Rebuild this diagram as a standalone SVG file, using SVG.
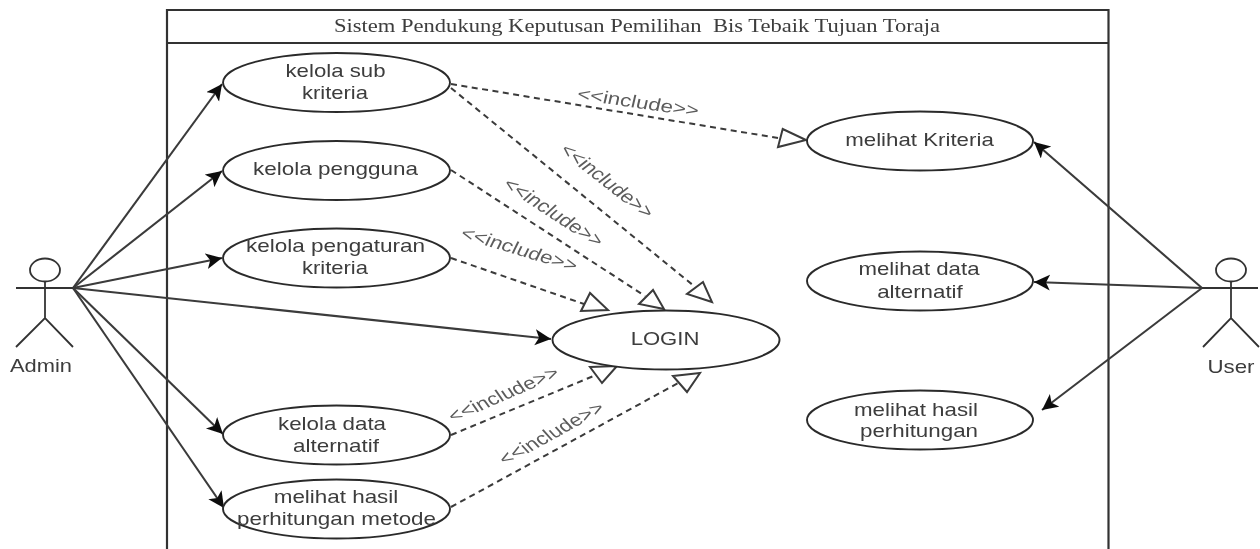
<svg xmlns="http://www.w3.org/2000/svg" width="1260" height="549" viewBox="0 0 1260 549">
<style>
.l{fill:none;stroke:#333;stroke-width:1.8}
.b{fill:none;stroke:#333;stroke-width:2.200}
.n{fill:#fff;stroke:#2b2b2b;stroke-width:1.900}
.t{font-family:"Liberation Sans",Arial,sans-serif;font-size:18.500px;fill:#3c3c3c;text-anchor:middle}
.r{font-size:17.500px;fill:#5c5c5c}
.h{font-family:"Liberation Serif","Times New Roman",serif;font-size:19px;fill:#3c3c3c;text-anchor:middle;white-space:pre}
.a{stroke:#3a3a3a;stroke-width:2.100;fill:none;marker-end:url(#ah)}
.d{stroke:#3a3a3a;stroke-width:2;fill:none;stroke-dasharray:6 4.500}
.o{fill:#fff;stroke:#3a3a3a;stroke-width:2;stroke-linejoin:miter}
</style>
<defs>
<filter id="soft" x="-2%" y="-2%" width="104%" height="104%"><feGaussianBlur stdDeviation="0.4"/></filter>
<marker id="ah" markerUnits="userSpaceOnUse" markerWidth="20" markerHeight="18" refX="16" refY="8" orient="auto"><path d="M0 0L16 8L0 16L4 8Z" fill="#111"/></marker>
</defs>
<rect width="1260" height="549" fill="#fff"/>
<g filter="url(#soft)">
<g id="system">
<path class="b" d="M167 560V10H1108.500V560M167 43H1108.500"/>
<text class="h" x="637" y="32" textLength="606" lengthAdjust="spacingAndGlyphs" xml:space="preserve">Sistem Pendukung Keputusan Pemilihan  Bis Tebaik Tujuan Toraja</text>
</g>
<g id="connectors">
<path class="a" d="M73 288L222 84"/>
<path class="a" d="M73 288L222 171"/>
<path class="a" d="M73 288L222 258"/>
<path class="a" d="M73 288L551 339"/>
<path class="a" d="M73 288L223 434"/>
<path class="a" d="M73 288L224 508"/>
<path class="a" d="M1202 288L1034 142"/>
<path class="a" d="M1202 288L1034 282"/>
<path class="a" d="M1202 288L1042 410"/>
<path class="d" d="M451 84L778 138"/>
<path class="d" d="M451 88L694 286"/>
<path class="d" d="M451 170L645 296"/>
<path class="d" d="M451 258L584 304"/>
<path class="d" d="M451 435L596 375"/>
<path class="d" d="M451 507L680 382"/>
<polygon class="o" points="782.700,129 778,147 806,140"/>
<polygon class="o" points="703,282 687,294 712,302"/>
<polygon class="o" points="653,290 639,304 664,309"/>
<polygon class="o" points="590,293 581,311 608,310"/>
<polygon class="o" points="590,367 617,366 602,383"/>
<polygon class="o" points="673,376 700,373 687,392"/>
<g id="connector-labels">
<text class="t r" transform="translate(638 103) scale(1.280 1) rotate(10.400)" y="5">&lt;&lt;include&gt;&gt;</text>
<text class="t r" transform="translate(606.500 181.500) scale(1.280 1) rotate(45)" y="5">&lt;&lt;include&gt;&gt;</text>
<text class="t r" transform="translate(553 213) scale(1.280 1) rotate(39.800)" y="5">&lt;&lt;include&gt;&gt;</text>
<text class="t r" transform="translate(519 250) scale(1.280 1) rotate(21)" y="5">&lt;&lt;include&gt;&gt;</text>
<text class="t r" transform="translate(504 395) scale(1.280 1) rotate(-29)" y="5">&lt;&lt;include&gt;&gt;</text>
<text class="t r" transform="translate(552 434) scale(1.280 1) rotate(-35)" y="5">&lt;&lt;include&gt;&gt;</text>
</g>
</g>
<g id="admin">
<ellipse class="l" cx="45" cy="270" rx="15" ry="11.500"/>
<path class="l" d="M16 288H73M45 281.500V318M16 347L45 318L73 347"/>
<text class="t" x="41" y="372" textLength="62" lengthAdjust="spacingAndGlyphs">Admin</text>
</g>
<g id="user">
<ellipse class="l" cx="1231" cy="270" rx="15" ry="11.500"/>
<path class="l" d="M1202 288H1258M1231 281.500V318M1203 347L1231 318L1259 347"/>
<text class="t" x="1231" y="372.500" textLength="47" lengthAdjust="spacingAndGlyphs">User</text>
</g>
<g id="kelola-sub-kriteria">
<ellipse class="n" cx="336.500" cy="82.500" rx="113.500" ry="29.500"/>
<text class="t" x="335.500" y="77" textLength="100" lengthAdjust="spacingAndGlyphs">kelola sub</text>
<text class="t" x="335" y="99" textLength="66" lengthAdjust="spacingAndGlyphs">kriteria</text>
</g>
<g id="kelola-pengguna">
<ellipse class="n" cx="336.500" cy="170.500" rx="113.500" ry="29.500"/>
<text class="t" x="335.500" y="175" textLength="165" lengthAdjust="spacingAndGlyphs">kelola pengguna</text>
</g>
<g id="kelola-pengaturan-kriteria">
<ellipse class="n" cx="336.500" cy="258" rx="113.500" ry="29.500"/>
<text class="t" x="335.500" y="252" textLength="179" lengthAdjust="spacingAndGlyphs">kelola pengaturan</text>
<text class="t" x="335" y="274" textLength="66" lengthAdjust="spacingAndGlyphs">kriteria</text>
</g>
<g id="kelola-data-alternatif">
<ellipse class="n" cx="336.500" cy="435" rx="113.500" ry="29.500"/>
<text class="t" x="332" y="430" textLength="108" lengthAdjust="spacingAndGlyphs">kelola data</text>
<text class="t" x="336" y="452" textLength="86" lengthAdjust="spacingAndGlyphs">alternatif</text>
</g>
<g id="melihat-hasil-perhitungan-metode">
<ellipse class="n" cx="336.500" cy="509" rx="113.500" ry="29.500"/>
<text class="t" x="336" y="503" textLength="124.500" lengthAdjust="spacingAndGlyphs">melihat hasil</text>
<text class="t" x="336.500" y="525" textLength="199" lengthAdjust="spacingAndGlyphs">perhitungan metode</text>
</g>
<g id="login">
<ellipse class="n" cx="666" cy="340" rx="113.500" ry="29.500"/>
<text class="t" x="665" y="345" textLength="68.700" lengthAdjust="spacingAndGlyphs">LOGIN</text>
</g>
<g id="melihat-kriteria">
<ellipse class="n" cx="920" cy="141" rx="113" ry="29.500"/>
<text class="t" x="919.500" y="146" textLength="148.600" lengthAdjust="spacingAndGlyphs">melihat Kriteria</text>
</g>
<g id="melihat-data-alternatif">
<ellipse class="n" cx="920" cy="281" rx="113" ry="29.500"/>
<text class="t" x="919" y="275" textLength="121" lengthAdjust="spacingAndGlyphs">melihat data</text>
<text class="t" x="920" y="297.500" textLength="85.600" lengthAdjust="spacingAndGlyphs">alternatif</text>
</g>
<g id="melihat-hasil-perhitungan">
<ellipse class="n" cx="920" cy="420" rx="113" ry="29.500"/>
<text class="t" x="916" y="416" textLength="124" lengthAdjust="spacingAndGlyphs">melihat hasil</text>
<text class="t" x="919" y="437" textLength="118" lengthAdjust="spacingAndGlyphs">perhitungan</text>
</g>
</g>
</svg>
